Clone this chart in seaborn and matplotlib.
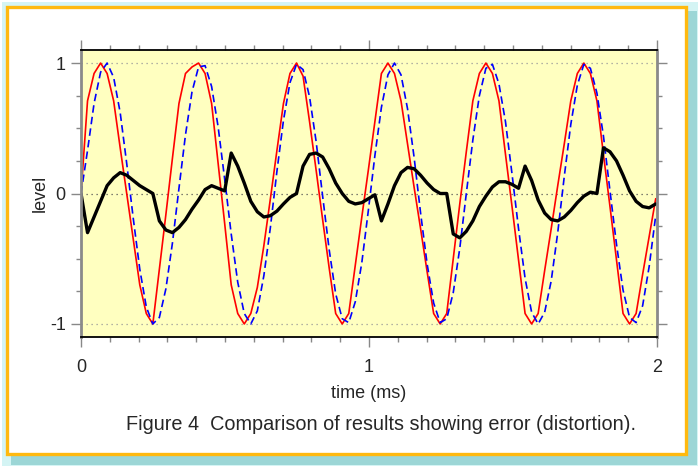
"""plot.py

Comparison of a sampled tone, its reference and the resulting error.
"""

import matplotlib as mpl
import matplotlib.pyplot as plt
import numpy as np
import seaborn as sns
from matplotlib.patches import Rectangle

# Sample rate of the traces (kHz), one value per sample below
sample_rate = 44.1

# Red trace: processed signal
red = [0.00, 0.71, 0.92, 1.00, 0.92, 0.71, 0.35, 0.00, -0.35, -0.70,
       -0.92, -1.00, -0.58, -0.16, 0.27, 0.69, 0.92, 0.97, 1.00, 0.92,
       0.69, 0.23, -0.23, -0.70, -0.92, -1.00, -0.92, -0.72, -0.40, -0.04,
       0.33, 0.69, 0.92, 1.00, 0.90, 0.55, 0.18, -0.20, -0.57, -0.92,
       -1.00, -0.92, -0.55, -0.18, 0.18, 0.55, 0.92, 1.00, 0.92, 0.71,
       0.38, 0.05, -0.27, -0.60, -0.92, -1.00, -0.92, -0.50, -0.08, 0.32,
       0.71, 0.92, 1.00, 0.92, 0.71, 0.30, -0.10, -0.51, -0.92, -1.00,
       -0.92, -0.59, -0.27, 0.06, 0.38, 0.71, 0.92, 1.00, 0.92, 0.71,
       0.30, -0.10, -0.51, -0.92, -1.00, -0.92, -0.62, -0.33, -0.04]

# Blue dashed trace: reference signal
blue = [0.00, 0.33, 0.69, 0.93, 1.00, 0.89, 0.62, 0.23, -0.19, -0.58,
        -0.87, -1.00, -0.95, -0.73, -0.38, 0.04, 0.45, 0.78, 0.97, 0.98,
        0.82, 0.51, 0.11, -0.31, -0.68, -0.92, -1.00, -0.90, -0.63, -0.26,
        0.17, 0.56, 0.85, 0.99, 0.95, 0.74, 0.40, -0.02, -0.43, -0.77,
        -0.96, -0.99, -0.83, -0.53, -0.13, 0.29, 0.66, 0.91, 1.00, 0.91,
        0.65, 0.28, -0.15, -0.54, -0.84, -0.99, -0.96, -0.76, -0.42, 0.00,
        0.41, 0.75, 0.96, 0.99, 0.84, 0.55, 0.15, -0.27, -0.65, -0.91,
        -1.00, -0.91, -0.67, -0.30, 0.13, 0.53, 0.83, 0.99, 0.96, 0.77,
        0.44, 0.02, -0.39, -0.74, -0.95, -0.99, -0.86, -0.56, -0.17]

# Black trace: error (distortion)
error = [0.00, -0.30, -0.18, -0.06, 0.06, 0.12, 0.16, 0.14, 0.10, 0.06,
         0.03, 0.00, -0.21, -0.28, -0.30, -0.26, -0.20, -0.12, -0.05, 0.03,
         0.06, 0.04, 0.02, 0.31, 0.21, 0.08, -0.06, -0.14, -0.18, -0.17,
         -0.135, -0.08, -0.03, 0.00, 0.21, 0.30, 0.31, 0.28, 0.19, 0.08,
         0.00, -0.06, -0.08, -0.07, -0.04, -0.01, -0.21, -0.08, 0.06, 0.16,
         0.20, 0.19, 0.14, 0.08, 0.03, 0.00, 0.00, -0.31, -0.34, -0.29,
         -0.21, -0.10, -0.02, 0.05, 0.09, 0.09, 0.07, 0.04, 0.21, 0.10,
         -0.05, -0.15, -0.20, -0.21, -0.18, -0.13, -0.07, -0.02, 0.01, 0.00,
         0.35, 0.32, 0.25, 0.14, 0.02, -0.06, -0.10, -0.11, -0.08]

x_ticks = [0, 1, 2]
y_ticks = [-1, 0, 1]
caption = 'Figure 4  Comparison of results showing error (distortion).'

W, H = 700, 468


def px_box(x0, y0, x1, y1):
    """Convert a pixel box (top-left origin) to figure fractions."""
    return (x0 / W, (H - y1) / H), (x1 - x0) / W, (y1 - y0) / H


sns.set_style('ticks')
plt.rcParams['font.family'] = ['Liberation Sans', 'DejaVu Sans']

fig = plt.figure(figsize=(W / 100, H / 100), dpi=100)
fig.patch.set_facecolor('white')

# Frame round the figure: cyan glow, teal drop shadow, orange border
for box, face, edge, lw in [((2, 2, 698, 466), '#d4f4f4', 'none', 0),
                            ((11, 11, 697, 465), '#9cd6d6', 'none', 0),
                            ((6.5, 6.5, 686.5, 453.5), 'white', '#ffb90f', 2.4)]:
    xy, w, h = px_box(*box)
    fig.add_artist(Rectangle(xy, w, h, transform=fig.transFigure,
                             facecolor=face, edgecolor=edge, linewidth=lw,
                             zorder=-5))

xy, w, h = px_box(81, 50, 657, 337)
ax = fig.add_axes([xy[0], xy[1], w, h])
ax.set_facecolor('#ffffc0')

t = np.arange(len(red)) / sample_rate

sns.lineplot(x=t, y=red, color='#ff0000', linewidth=1.2, estimator=None,
             sort=False, ax=ax)
sns.lineplot(x=t, y=blue, color='#0000ff', linewidth=1.2, linestyle=(0, (4.5, 2.5)),
             estimator=None, sort=False, ax=ax)
sns.lineplot(x=t, y=error, color='black', linewidth=2.4, estimator=None,
             sort=False, ax=ax)

# Dotted reference levels
for level in y_ticks:
    ax.axhline(level, color='#555555' if level == 0 else '#999999',
               linewidth=0.9, linestyle=(0, (1, 3)), zorder=0.5)

ax.set_xlim(0, 2)
ax.set_ylim(-1.1, 1.1)
ax.set_xticks(x_ticks)
ax.set_xticklabels([str(v) for v in x_ticks])
ax.set_yticks(y_ticks)
ax.set_yticklabels([str(v) for v in y_ticks])
ax.xaxis.set_minor_locator(mpl.ticker.MultipleLocator(0.1))
ax.yaxis.set_minor_locator(mpl.ticker.MultipleLocator(0.25))
ax.tick_params(which='both', direction='out', top=True, right=True,
               color='#888888', labelsize=13)
ax.tick_params(which='major', length=7, width=1.0)
ax.tick_params(which='minor', length=3.6, width=1.0)
ax.tick_params(axis='x', which='major', pad=8.5)
ax.tick_params(axis='y', which='major', pad=4)

for side in ['top', 'bottom']:
    ax.spines[side].set_color('black')
    ax.spines[side].set_linewidth(1.3)
for side in ['left', 'right']:
    ax.spines[side].set_color('#8a8a8a')
    ax.spines[side].set_linewidth(2.0)

ax.set_xlabel('time (ms)', fontsize=13, labelpad=7)
ax.set_ylabel('level', fontsize=13, labelpad=1)

fig.text(381 / W, (H - 425) / H, caption, ha='center', va='center', fontsize=14.3)

fig.savefig('out.png', dpi=100, facecolor=fig.get_facecolor())
